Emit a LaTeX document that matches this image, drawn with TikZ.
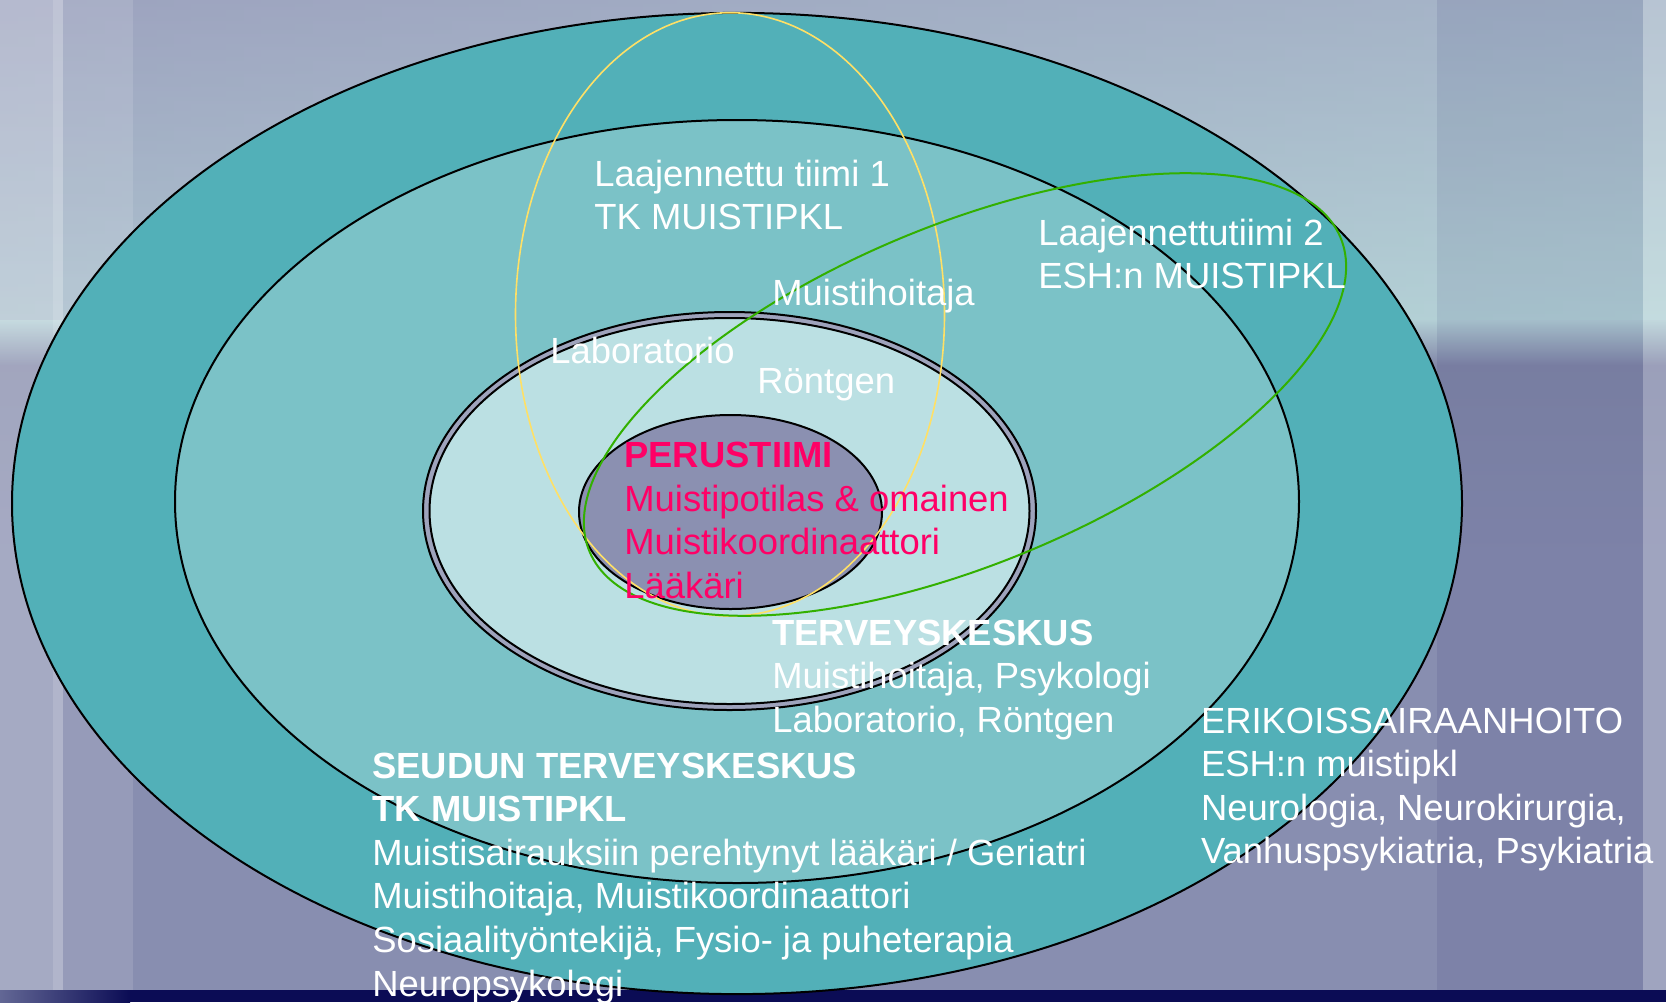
\documentclass[tikz,border=0pt]{standalone}
\usepackage{fontspec}
\setmainfont{Liberation Sans}
\usetikzlibrary{positioning}
\definecolor{cloud}{HTML}{9DA3BF}
\definecolor{sky}{HTML}{B5D3D7}
\definecolor{sea}{HTML}{888EB0}
\definecolor{navy}{HTML}{0B0C55}
\definecolor{ringout}{HTML}{52B0B8}
\definecolor{ringmid}{HTML}{7BC2C7}
\definecolor{ringtk}{HTML}{BBE0E3}
\definecolor{band}{HTML}{9EA3BC}
\definecolor{core}{HTML}{8B90B1}
\definecolor{pinkred}{HTML}{FF0066}
\definecolor{yellowline}{HTML}{FFE066}
\definecolor{greenline}{HTML}{33B000}
\tikzset{
  ring/.style={draw=black, line width=1pt},
  lbl/.style={text=white, font=\fontsize{18.2}{21.8}\selectfont, align=left, inner sep=0pt, anchor=base west},
}

\begin{document}
\begin{tikzpicture}[x=0.5pt, y=-0.5pt]
\useasboundingbox (0,0) rectangle (1666,1002);
% background
\fill[sea] (0,0) rectangle (1666,1002);
\shade[top color=cloud, bottom color=sky] (0,0) rectangle (1666,320);
\shade[left color=cloud, right color=sky, opacity=0.4] (0,0) rectangle (1666,320);
\shade[top color=sky!90!cloud, bottom color=sea!96!black] (0,320) rectangle (1666,365);
\shade[top color=sea!96!black, bottom color=sea] (0,365) rectangle (1666,560);
\fill[white, opacity=0.25] (0,0) rectangle (53,990);
\fill[white, opacity=0.35] (53,0) rectangle (63,990);
\fill[white, opacity=0.12] (63,0) rectangle (133,990);
\fill[blue!30!black, opacity=0.08] (1437,0) rectangle (1643,990);
\fill[white, opacity=0.2] (1643,0) rectangle (1666,990);
\fill[navy] (0,990) rectangle (1666,1002);
\shade[left color=sea!70!navy, right color=navy] (0,990) rectangle (130,1002);

\coordinate (O) at (737,503.5);
\coordinate (M) at (737,501.5);
\coordinate (T) at (729.5,511);
\coordinate (C) at (730.5,512);
\coordinate (Y) at (730,314.4);
\coordinate (G) at (965,394.5);

\draw[ring, fill=ringout] (O) ellipse [x radius=725, y radius=490.6];
\draw[ring, fill=ringmid] (M) ellipse [x radius=562, y radius=381.5];
\draw[ring, fill=band] (T) ellipse [x radius=306.5, y radius=199];
\draw[ring, fill=ringtk] (T) ellipse [x radius=300, y radius=193];
\draw[ring, fill=core] (C) ellipse [x radius=151.5, y radius=97];
\draw[yellowline, line width=0.8pt] (Y) ellipse [x radius=214.5, y radius=301.7];
\draw[greenline, line width=1pt, rotate around={22.7:(G)}] (G) ellipse [x radius=407, y radius=169];

% labels: anchored at baseline of last line
\node[lbl] (team1) at (594,229.6) {Laajennettu tiimi 1\\TK MUISTIPKL};
\node[lbl] (team2) at (1038,288.6) {Laajennettutiimi 2\\ESH:n MUISTIPKL};
\node[lbl] (hoitaja) at (772,305) {Muistihoitaja};
\node[lbl] (lab) at (550,363) {Laboratorio};
\node[lbl] (rtg) at (757,393) {Röntgen};
\node[lbl, text=pinkred] (perus) at (624,598.3) {\textbf{PERUSTIIMI}\\Muistipotilas \& omainen\\Muistikoordinaattori\\Lääkäri};
\node[lbl] (tk) at (772,732.2) {\textbf{TERVEYSKESKUS}\\Muistihoitaja, Psykologi\\Laboratorio, Röntgen};
\node[lbl] (esh) at (1200.6,863.8) {ERIKOISSAIRAANHOITO\\ESH:n muistipkl\\Neurologia, Neurokirurgia,\\Vanhuspsykiatria, Psykiatria};
\node[lbl] (seudun) at (372,996) {\textbf{SEUDUN TERVEYSKESKUS}\\\textbf{TK MUISTIPKL}\\Muistisairauksiin perehtynyt lääkäri / Geriatri\\Muistihoitaja, Muistikoordinaattori\\Sosiaalityöntekijä, Fysio- ja puheterapia\\Neuropsykologi};
\end{tikzpicture}
\end{document}
